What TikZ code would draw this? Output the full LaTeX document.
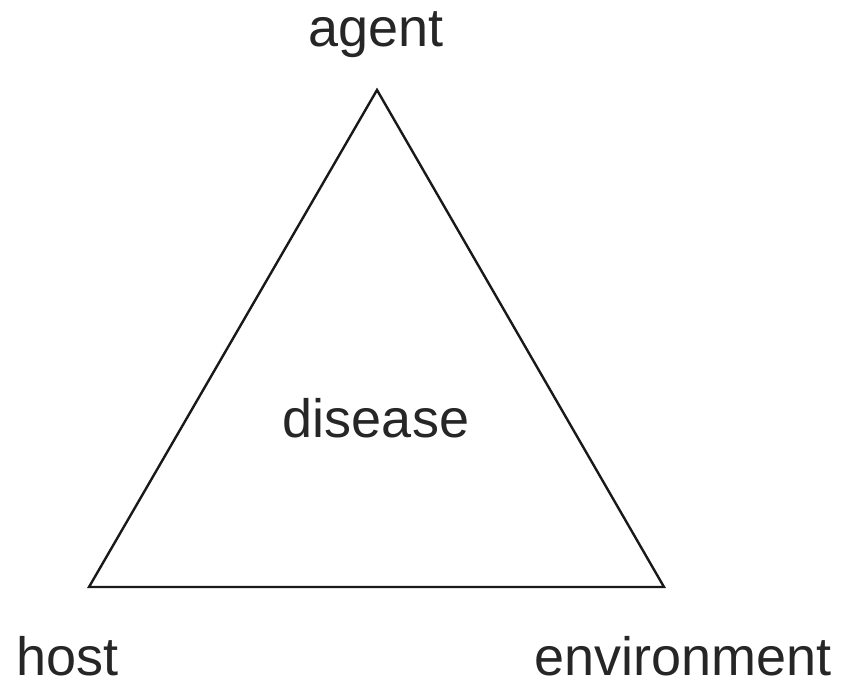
\documentclass[tikz,border=0pt]{standalone}
\usepackage{fontspec}
\setmainfont{Liberation Sans}
\begin{document}
\begin{tikzpicture}[x=1pt,y=1pt,
  lbl/.style={inner sep=0pt,font=\fontsize{54}{60}\selectfont,text=black!85}]
\useasboundingbox (0,0) rectangle (841,682);
\coordinate (A) at (377,592);
\coordinate (H) at (89,95);
\coordinate (E) at (664,95);
\draw[line width=2.4pt,line join=miter,black!90] (A) -- (H) -- (E) -- cycle;
\node[lbl,anchor=base] (agent) at (376,635) {agent};
\node[lbl,anchor=base west,text depth=0pt] (host) at (16,6) {host};
\node[lbl,anchor=base east,text depth=0pt] (env) at (832,6) {environment};
\node[lbl,anchor=base] (dis) at (376,244) {disease};
\end{tikzpicture}
\end{document}
